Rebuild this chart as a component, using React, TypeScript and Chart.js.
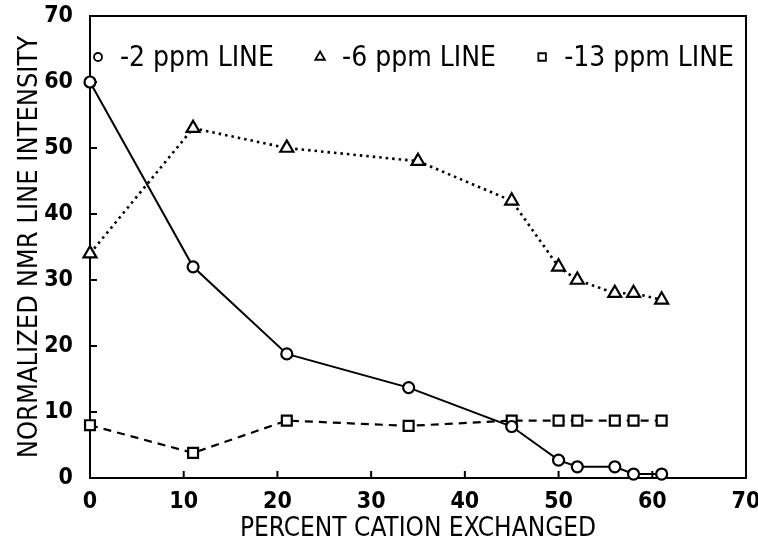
import React, { useEffect, useRef } from 'react';
import { Chart, registerables } from 'chart.js';

Chart.register(...registerables);

// ---- data ----
const percent2ppm = [0, 11, 21, 34, 45, 50, 52, 56, 58, 61];
const intensity2ppm = [60, 32, 18.8, 13.7, 7.8, 2.7, 1.7, 1.7, 0.6, 0.6];

const percent6ppm = [0, 11, 21, 35, 45, 50, 52, 56, 58, 61];
const intensity6ppm = [34, 53, 50, 48, 42, 32, 30, 28, 28, 27];

const percent13ppm = [0, 11, 21, 34, 45, 50, 52, 56, 58, 61];
const intensity13ppm = [8, 3.8, 8.7, 7.9, 8.7, 8.7, 8.7, 8.7, 8.7, 8.7];

const seriesLabels = ['-2 ppm LINE', '-6 ppm LINE', '-13 ppm LINE'];
const xTickValues = [0, 10, 20, 30, 40, 50, 60, 70];
const yTickValues = [0, 10, 20, 30, 40, 50, 60, 70];
const xTitle = 'PERCENT CATION EXCHANGED';
const yTitle = 'NORMALIZED NMR LINE INTENSITY';

const FONT = '"Liberation Sans Narrow", "DejaVu Sans Condensed", "Liberation Sans", sans-serif';

function drawMarker(ctx: CanvasRenderingContext2D, style: string, x: number, y: number, r: number) {
  ctx.beginPath();
  if (style === 'circle') {
    ctx.arc(x, y, r, 0, Math.PI * 2);
  } else if (style === 'triangle') {
    ctx.moveTo(x, y - r);
    ctx.lineTo(x + r * 0.87, y + r * 0.5);
    ctx.lineTo(x - r * 0.87, y + r * 0.5);
    ctx.closePath();
  } else {
    ctx.rect(x - r * 0.75, y - r * 0.75, r * 1.5, r * 1.5);
  }
  ctx.fill();
  ctx.stroke();
}

const framePlugin = {
  id: 'frameTicks',
  beforeDatasetsDraw(chart: any) {
    const { ctx, chartArea } = chart;
    const { left, right, top, bottom } = chartArea;
    const xs = chart.scales.x;
    const ys = chart.scales.y;
    ctx.save();
    ctx.strokeStyle = '#000';
    ctx.lineWidth = 2;
    ctx.strokeRect(left, top, right - left, bottom - top);
    ctx.beginPath();
    xTickValues.forEach((v) => {
      const px = xs.getPixelForValue(v);
      ctx.moveTo(px, bottom);
      ctx.lineTo(px, bottom - 7);
    });
    yTickValues.forEach((v) => {
      const py = ys.getPixelForValue(v);
      ctx.moveTo(left, py);
      ctx.lineTo(left + 7, py);
    });
    ctx.stroke();
    ctx.restore();
  },
};

const legendPlugin = {
  id: 'insideLegend',
  afterDraw(chart: any) {
    const { ctx, chartArea } = chart;
    ctx.save();
    ctx.font = `28px ${FONT}`;
    ctx.fillStyle = '#000';
    ctx.strokeStyle = '#000';
    ctx.textBaseline = 'alphabetic';
    const ds = chart.data.datasets;
    const widths = ds.map((d: any) => ctx.measureText(d.label).width);
    const startX = chartArea.left + 8;
    const endX = chartArea.right - 12;
    const textOffset = 22;
    const total = widths.reduce((a: number, b: number) => a + b, 0) + ds.length * textOffset;
    const gap = (endX - startX - total) / (ds.length - 1);
    const baseY = chartArea.top + 50;
    let x = startX;
    ds.forEach((d: any, i: number) => {
      ctx.lineWidth = 1.8;
      ctx.fillStyle = '#fff';
      const r = d.pointStyle === 'circle' ? 4 : d.pointStyle === 'triangle' ? 5.5 : 5;
      drawMarker(ctx, d.pointStyle, x, baseY - 9, r);
      ctx.fillStyle = '#000';
      ctx.fillText(d.label, x + textOffset, baseY);
      x += textOffset + widths[i] + gap;
    });
    ctx.restore();
  },
};

export default function App() {
  const ref = useRef<HTMLCanvasElement>(null);
  useEffect(() => {
    document.body.style.margin = '0';
    const toPts = (xs: number[], ys: number[]) => xs.map((x, i) => ({ x, y: ys[i] }));
    const common = {
      borderColor: '#000',
      borderWidth: 2,
      pointBackgroundColor: '#fff',
      pointBorderColor: '#000',
      pointBorderWidth: 2.2,
      clip: false as any,
      tension: 0,
      fill: false,
    };
    const tickFont = { family: FONT, size: 23, weight: 'bold' as any };
    const chart = new Chart(ref.current as HTMLCanvasElement, {
      type: 'line',
      data: {
        datasets: [
          {
            ...common,
            label: seriesLabels[0],
            data: toPts(percent2ppm, intensity2ppm),
            pointStyle: 'circle',
            pointRadius: 5.5,
          },
          {
            ...common,
            label: seriesLabels[1],
            data: toPts(percent6ppm, intensity6ppm),
            pointStyle: 'triangle',
            pointRadius: 7.5,
            borderWidth: 2.6,
            borderDash: [2.5, 4],
          },
          {
            ...common,
            label: seriesLabels[2],
            data: toPts(percent13ppm, intensity13ppm),
            pointStyle: 'rect',
            pointRadius: 7,
            borderWidth: 2.2,
            borderDash: [8, 6],
          },
        ],
      },
      options: {
        animation: false,
        responsive: false,
        maintainAspectRatio: false,
        layout: { padding: { top: 16, right: 12, left: 0, bottom: 0 } },
        plugins: { legend: { display: false }, tooltip: { enabled: false } },
        scales: {
          x: {
            type: 'linear',
            min: 0,
            max: 70,
            afterBuildTicks: (s: any) => {
              s.ticks = xTickValues.map((v) => ({ value: v }));
            },
            afterFit: (s: any) => {
              s.height = 69;
              s.paddingLeft = 0;
              s.paddingRight = 0;
            },
            grid: { display: false },
            border: { display: false },
            ticks: { color: '#000', font: tickFont, padding: 2, maxRotation: 0, autoSkip: false },
            title: {
              display: true,
              text: xTitle,
              color: '#000',
              font: { family: FONT, size: 26 },
              padding: { top: 0, bottom: 2 },
            },
          },
          y: {
            type: 'linear',
            min: 0,
            max: 70,
            afterBuildTicks: (s: any) => {
              s.ticks = yTickValues.map((v) => ({ value: v }));
            },
            afterFit: (s: any) => {
              s.width = 90;
              s.paddingTop = 0;
              s.paddingBottom = 0;
            },
            grid: { display: false },
            border: { display: false },
            ticks: { color: '#000', font: tickFont, padding: 9, autoSkip: false },
            title: {
              display: true,
              text: yTitle,
              color: '#000',
              font: { family: FONT, size: 27 },
              padding: { top: 14, bottom: 0 },
            },
          },
        },
      },
      plugins: [framePlugin, legendPlugin],
    });
    return () => chart.destroy();
  }, []);
  return <canvas ref={ref} width={758} height={547} style={{ display: 'block' }} />;
}
